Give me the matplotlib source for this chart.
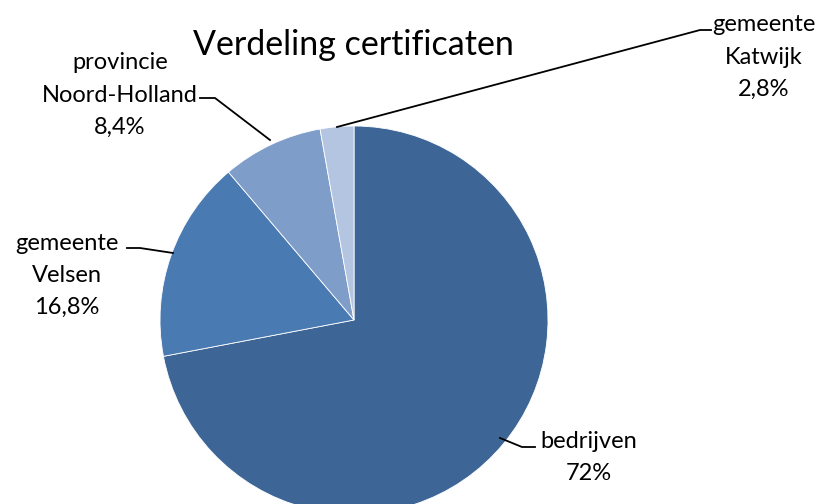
import matplotlib
matplotlib.use("Agg")
import matplotlib.pyplot as plt

categories = ["bedrijven", "gemeente\nVelsen", "provincie\nNoord-Holland", "gemeente\nKatwijk"]
values = [72.0, 16.8, 8.4, 2.8]
pct_labels = ["72%", "16,8%", "8,4%", "2,8%"]
colors = ["#3D6696", "#4A7AB2", "#7F9DC9", "#B4C5E1"]
title = "Verdeling certificaten"

W, H = 824, 504
fig = plt.figure(figsize=(W / 100, H / 100), dpi=100)
ax = fig.add_axes([0, 0, 1, 1])

cx, cy, r = 354, 320, 194
# y axis is inverted (pixel coords), so flip direction/start to get
# a clockwise pie starting at 12 o'clock
ax.pie(values, colors=colors, startangle=-90, counterclock=True,
       center=(cx, cy), radius=r,
       wedgeprops=dict(linewidth=0.6, edgecolor="white"))
ax.set_xlim(0, W)
ax.set_ylim(H, 0)
ax.set_aspect("equal")
ax.axis("off")

font = ["Lato", "DejaVu Sans"]
ax.text(353, 55, title, ha="center", va="baseline", fontsize=24.5, family=font)

# label x-centre and baselines of each line
label_x = [589, 67, 120, 764]
label_base = [(448, 480), (250, 282, 314), (69, 102, 134), (31, 64, 96)]
leaders = [
    [(500, 438), (522, 447), (535, 447)],
    [(173, 253), (140, 248), (127, 248)],
    [(270, 140), (215, 98), (200, 98)],
    [(337, 127), (700, 30), (711, 30)],
]
for cat, pct, x, bases in zip(categories, pct_labels, label_x, label_base):
    lines = cat.split("\n") + [pct]
    for txt, yb in zip(lines, bases):
        ax.text(x, yb, txt, ha="center", va="baseline", fontsize=17,
                family=font)
for pts in leaders:
    xs, ys = zip(*pts)
    ax.plot(xs, ys, color="black", linewidth=1.3)

fig.savefig("out.png", dpi=100)
